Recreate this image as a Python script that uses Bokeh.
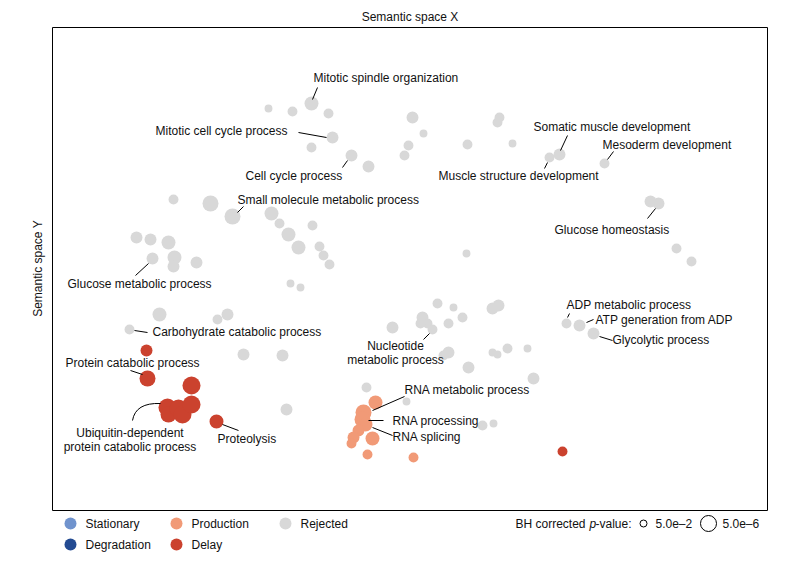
import math
from bokeh.plotting import figure
from bokeh.models import Range1d
from bokeh.core.properties import value
from bokeh.embed import file_html
from bokeh.resources import INLINE

FONT = "Liberation Sans"

# ---------------- data (semantic space coordinates, -log10 BH p) ----------------
rej_x = [21.6, 24.0, 25.9, 27.6, 28.0, 25.9, 29.9, 31.6, 36.0, 37.1, 35.6, 35.2,
         12.1, 15.8, 18.0, 21.9, 22.7, 23.6, 24.6, 26.0, 26.7, 27.1, 27.7,
         8.4, 9.8, 11.6, 10.0, 12.2, 12.1, 14.4, 23.8, 24.8, 10.7, 16.5, 17.5,
         7.7, 19.1, 23.0, 23.4, 34.0, 38.5, 40.1, 41.0, 39.6, 37.0, 37.5, 38.0,
         36.8, 44.0, 44.6, 39.6, 39.1, 44.0, 44.5, 45.5, 47.5, 41.6, 48.1, 31.4,
         35.4, 43.0, 44.1, 51.4, 52.7, 54.1, 41.5, 44.7, 44.5, 46.0, 49.7, 50.7,
         55.2, 59.8, 60.6, 41.4, 62.4, 63.9]
rej_y = [40.2, 39.9, 40.7, 39.7, 37.3, 36.3, 35.5, 34.4, 39.3, 37.7, 36.5, 35.5,
         31.1, 30.7, 29.4, 29.7, 28.7, 27.6, 26.3, 28.5, 26.4, 25.5, 24.6,
         27.3, 27.1, 26.8, 25.2, 25.3, 24.4, 24.8, 22.7, 22.3, 19.6, 19.1, 19.6,
         18.1, 15.6, 15.5, 10.1, 18.3, 20.7, 20.3, 19.3, 18.7, 19.3, 18.7, 18.1,
         18.7, 20.2, 20.5, 15.8, 15.5, 15.8, 15.6, 16.2, 16.2, 14.3, 13.2, 12.3,
         10.9, 8.5, 8.7, 18.7, 18.5, 17.7, 36.6, 39.3, 38.8, 36.7, 35.3, 35.6,
         34.7, 30.9, 30.7, 25.7, 26.2, 24.9]
rej_logp = [1.7, 2.6, 4.4, 2.6, 3.5, 2.6, 3.5, 3.5, 3.5, 1.7, 2.6, 2.6,
            2.6, 5.3, 5.3, 4.4, 2.6, 4.4, 4.4, 2.6, 2.6, 2.6, 2.6,
            3.5, 3.5, 4.4, 3.5, 4.4, 3.5, 3.5, 1.7, 1.7, 4.4, 2.6, 3.5,
            2.6, 3.5, 3.5, 3.5, 3.5, 2.6, 1.7, 2.6, 2.6, 3.5, 2.6, 2.6,
            2.6, 3.5, 3.5, 3.5, 2.6, 1.7, 1.7, 2.6, 1.7, 3.5, 3.5, 2.6,
            1.7, 2.6, 1.7, 2.6, 3.5, 3.5, 2.6, 2.6, 2.6, 1.7, 2.6, 3.5,
            2.6, 3.5, 3.5, 1.7, 2.6, 2.6]

prod_x = [32.3, 31.1, 31.0, 31.3, 30.6, 30.1, 32.0, 29.9, 31.5, 36.1]
prod_y = [10.8, 9.8, 9.1, 8.6, 8.0, 7.3, 7.2, 6.7, 5.6, 5.3]
prod_logp = [4.4, 5.3, 5.3, 4.4, 3.5, 3.5, 4.4, 2.6, 2.6, 2.6]

delay_x = [9.4, 9.5, 13.9, 11.5, 11.6, 12.6, 13.0, 13.9, 16.4, 51.0]
delay_y = [16.0, 13.2, 12.5, 10.3, 9.6, 10.2, 9.6, 10.6, 8.9, 5.9]
delay_logp = [3.5, 5.3, 6.2, 6.2, 5.3, 6.2, 6.2, 6.2, 4.4, 2.6]

legend_cats = ["Stationary", "Production", "Rejected", "Degradation", "Delay"]
pval_legend = ["5.0e\u20132", "5.0e\u20136"]
pval_legend_logp = [1.3, 5.3]

# ---------------- annotation layout ----------------
X_MAX, Y_MAX = 71.5, 48.3   # extent of the semantic-space box

lab_text = ["Mitotic spindle organization", "Mitotic cell cycle process", "Cell cycle process",
            "Small molecule metabolic process", "Somatic muscle development", "Mesoderm development",
            "Muscle structure development", "Glucose homeostasis", "Glucose metabolic process",
            "Carbohydrate catabolic process", "ADP metabolic process", "ATP generation from ADP",
            "Glycolytic process", "Protein catabolic process", "Proteolysis",
            "RNA metabolic process", "RNA processing", "RNA splicing"]
lab_x = [26.1, 10.3, 19.3, 18.5, 48.1, 55.0, 38.6, 50.2, 1.5, 10.0, 51.4, 54.3, 56.0, 1.3, 16.5, 35.2, 34.0, 34.0]
lab_y = [43.3, 38.0, 33.5, 31.1, 38.4, 36.6, 33.5, 28.1, 22.7, 17.9, 20.6, 19.1, 17.1, 14.8, 7.2, 12.1, 9.0, 7.4]

clab_text = ["Nucleotide", "metabolic process", "Ubiquitin-dependent", "protein catabolic process"]
clab_x = [34.3, 34.3, 7.75, 7.75]
clab_y = [16.5, 15.1, 7.8, 6.4]

seg_x0 = [26.0, 24.6, 29.0, 18.5, 50.8, 55.5, 49.2, 59.5, 8.3, 8.2, 37.1, 51.5, 53.4, 54.7, 7.8, 17.0, 32.0, 31.6, 32.0]
seg_y0 = [41.1, 37.8, 34.3, 29.8, 36.0, 35.1, 34.2, 29.2, 23.5, 18.0, 17.1, 19.3, 18.8, 17.4, 14.0, 8.6, 10.0, 9.0, 8.3]
seg_x1 = [26.5, 27.4, 29.5, 19.1, 51.5, 56.1, 49.5, 60.3, 9.6, 9.5, 37.7, 51.7, 54.1, 56.0, 9.0, 18.6, 35.2, 33.1, 34.0]
seg_y1 = [42.3, 37.3, 35.0, 30.4, 37.5, 35.9, 34.8, 30.2, 24.7, 17.8, 17.7, 19.7, 19.1, 17.0, 13.6, 8.0, 11.4, 9.0, 7.5]

COL_REJ = "#d8d8d8"
COL_PROD = "#f19a77"
COL_DELAY = "#cb422e"
COL_STAT = "#7093cd"
COL_DEG = "#234b92"
TXT = "#111111"


def size_of(L):
    return 7 + (L - 1.3) * 2.25


p = figure(frame_width=771, frame_height=550, x_range=Range1d(-4.4, 72.7), y_range=Range1d(-4.8, 50.2),
           output_backend="svg", toolbar_location=None,
           min_border_left=8, min_border_top=8, min_border_right=0, min_border_bottom=0)
p.axis.visible = False
p.grid.visible = False
p.outline_line_color = None
p.background_fill_color = "white"
p.border_fill_color = "white"

# box of the semantic space
p.quad(left=[0], right=[X_MAX], bottom=[0], top=[Y_MAX], fill_color=None, line_color="black", line_width=1)

# axis titles
p.text([X_MAX / 2], [Y_MAX + 1.1], text=["Semantic space X"], text_font=value(FONT), text_font_size="12px",
       text_baseline="middle", text_align="center", text_color=TXT)
p.text([-1.5], [24.2], text=["Semantic space Y"], angle=math.pi / 2, text_font=value(FONT),
       text_font_size="12px", text_baseline="middle", text_align="center", text_color=TXT)

p.scatter(rej_x, rej_y, size=[size_of(v) for v in rej_logp], color=COL_REJ, line_color=None)
p.scatter(prod_x, prod_y, size=[size_of(v) for v in prod_logp], color=COL_PROD, line_color=None)
p.scatter(delay_x, delay_y, size=[size_of(v) for v in delay_logp], color=COL_DELAY, line_color=None)

p.segment(seg_x0, seg_y0, seg_x1, seg_y1, line_color="black", line_width=1)
p.quadratic(x0=[8.0], y0=[9.0], x1=[10.8], y1=[10.7], cx=[8.3], cy=[10.8], line_color="black", line_width=1)

p.text(lab_x, lab_y, text=lab_text, text_font=value(FONT), text_font_size="12px",
       text_baseline="middle", text_align="left", text_color=TXT)
p.text(clab_x, clab_y, text=clab_text, text_font=value(FONT), text_font_size="12px",
       text_baseline="middle", text_align="center", text_color=TXT)

# ---------------- legend (below the box) ----------------
leg_mx = [1.8, 12.4, 23.3, 1.8, 12.4]
leg_my = [-1.3, -1.3, -1.3, -3.4, -3.4]
leg_col = [COL_STAT, COL_PROD, COL_REJ, COL_DEG, COL_DELAY]
p.scatter(leg_mx, leg_my, size=12, color=leg_col, line_color=None)
p.text([x + 1.5 for x in leg_mx], leg_my, text=legend_cats, text_font=value(FONT), text_font_size="12px",
       text_baseline="middle", text_align="left", text_color=TXT)

p.text([46.3], [-1.3], text=["BH corrected"], text_font=value(FONT), text_font_size="12px",
       text_baseline="middle", text_align="left", text_color=TXT)
p.text([53.7], [-1.3], text=["p"], text_font=value(FONT), text_font_size="12px", text_font_style="italic",
       text_baseline="middle", text_align="left", text_color=TXT)
p.text([54.3], [-1.3], text=["-value:"], text_font=value(FONT), text_font_size="12px",
       text_baseline="middle", text_align="left", text_color=TXT)
p.scatter([59.1, 65.6], [-1.3, -1.3], size=[size_of(v) for v in pval_legend_logp], fill_color=None,
          line_color="black", line_width=1)
p.text([60.3, 67.0], [-1.3, -1.3], text=pval_legend, text_font=value(FONT), text_font_size="12px",
       text_baseline="middle", text_align="left", text_color=TXT)

open("out.html", "w").write(file_html(p, INLINE))
